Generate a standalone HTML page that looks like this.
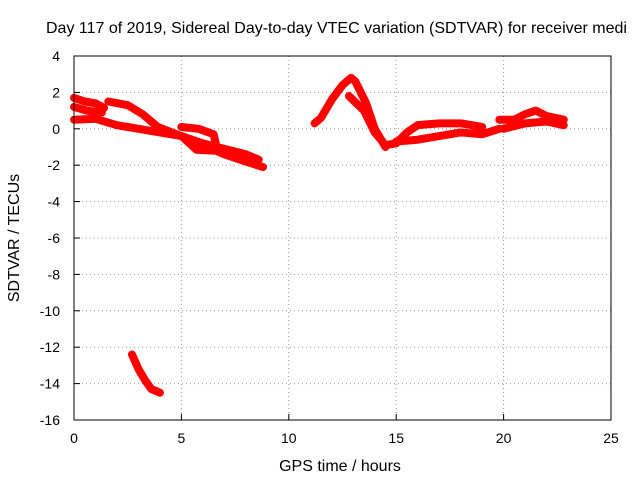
<!DOCTYPE html>
<html><head><meta charset="utf-8"><style>
body{margin:0;background:#fff}
svg{display:block;font-family:"Liberation Sans",sans-serif;font-size:14px}
</style></head><body>
<svg width="640" height="480">
<rect width="640" height="480" fill="#fff"/>
<text x="46" y="33" style="font-size:16px">Day 117 of 2019, Sidereal Day-to-day VTEC variation (SDTVAR) for receiver medi</text>
<g id="grid"></g>
<g id="axes"></g>
<g id="series"></g>
<rect x="74" y="56" width="537" height="364" fill="none" stroke="#000"/>
<text x="340" y="471" text-anchor="middle" style="font-size:16px">GPS time / hours</text>
<text transform="translate(19,238) rotate(-90)" text-anchor="middle" style="font-size:16px">SDTVAR / TECUs</text>
</svg>
<script>
const xTicks=[0,5,10,15,20,25];
const yTicks=[4,2,0,-2,-4,-6,-8,-10,-12,-14,-16];
const track1X=[0,0.5,1,1.4];
const track1Y=[1.7,1.5,1.4,1.15];
const track2X=[0,0.6,1.3];
const track2Y=[1.2,1.0,0.9];
const track3X=[0,1,2,3,4,5,6,7,8,8.8];
const track3Y=[0.5,0.55,0.2,0.0,-0.2,-0.4,-0.9,-1.4,-1.8,-2.1];
const track4X=[1.6,2.5,3.2,3.9,5,6,7,8,8.6];
const track4Y=[1.5,1.3,0.8,0.1,-0.4,-0.8,-1.1,-1.4,-1.7];
const track5X=[5,5.8,6.5,6.6];
const track5Y=[0.1,0,-0.3,-0.8];
const track5bX=[5.1,5.7,6.5];
const track5bY=[-0.5,-1.15,-1.2];
const track6X=[2.7,3.0,3.3,3.6,4.0];
const track6Y=[-12.4,-13.2,-13.8,-14.3,-14.5];
const track7X=[11.2,11.5,12,12.5,12.9,13.1,13.6,14,14.5];
const track7Y=[0.3,0.6,1.6,2.4,2.8,2.6,1.4,0,-1.0];
const track8X=[12.8,13.5,14,14.5,15,15.5,16,17,18,19];
const track8Y=[1.8,1.0,-0.2,-0.9,-0.8,-0.2,0.2,0.3,0.3,0.1];
const track9X=[15,16,17,18,19,19.8];
const track9Y=[-0.7,-0.6,-0.4,-0.2,-0.3,0];
const track10X=[19.8,20.5,21,21.5,22,22.8];
const track10Y=[0.5,0.5,0.8,1.0,0.7,0.5];
const track11X=[20,21,22,22.8];
const track11Y=[0,0.3,0.4,0.2];
const tracks=[[track1X,track1Y],[track2X,track2Y],[track3X,track3Y],[track4X,track4Y],[track5X,track5Y],[track5bX,track5bY],[track6X,track6Y],[track7X,track7Y],[track8X,track8Y],[track9X,track9Y],[track10X,track10Y],[track11X,track11Y]];
const L=74,R=611,T=56,B=420;
const sx=v=>L+(v-0)/(25-0)*(R-L);
const sy=v=>T+(4-v)/(4-(-16))*(B-T);
const NS="http://www.w3.org/2000/svg";
const grid=document.getElementById('grid'),axes=document.getElementById('axes'),ser=document.getElementById('series');
function mk(tag,a,p){const e=document.createElementNS(NS,tag);for(const k in a)e.setAttribute(k,a[k]);p.appendChild(e);return e;}
xTicks.forEach(t=>{const x=sx(t);
 if(t>0&&t<25){const g=mk('line',{x1:x,x2:x,y1:T,y2:B,stroke:'#999','stroke-dasharray':'1,3'},grid);
 
 }
 const tl=mk('line',{x1:x,x2:x,y1:B,y2:B-6,stroke:'#000'},axes);
 
 
 const tx=mk('text',{x:x,y:B+23,'text-anchor':'middle'},axes);tx.textContent=t;
 
 
});
yTicks.forEach(t=>{const y=sy(t);
 if(t<4&&t>-16){const g=mk('line',{x1:L,x2:R,y1:y,y2:y,stroke:'#999','stroke-dasharray':'1,3'},grid);
 
 }
 const tl=mk('line',{x1:L,x2:L+6,y1:y,y2:y,stroke:'#000'},axes);
 
 
 const tx=mk('text',{x:L-14,y:y+5,'text-anchor':'end'},axes);tx.textContent=t;
 
 
});
tracks.forEach((tr,i)=>{const pts=tr[0].map((x,j)=>sx(x)+','+sy(tr[1][j])).join(' ');
 const p=mk('polyline',{points:pts,fill:'none',stroke:'#f00','stroke-width':8,'stroke-linejoin':'round','stroke-linecap':'round'},ser);
 
 
});
</script>
</body></html>
